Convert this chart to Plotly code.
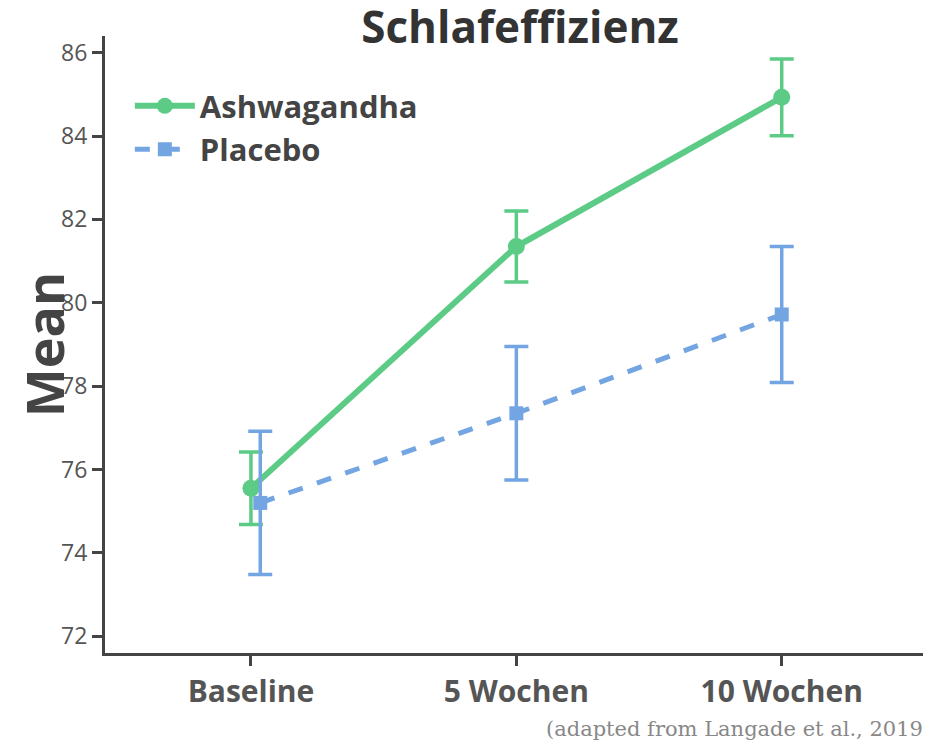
import plotly.graph_objects as go

categories = ["Baseline", "5 Wochen", "10 Wochen"]
x_ash = [0, 1, 2]
x_pla = [0.035, 1, 2]
ash_mean = [75.55, 81.35, 84.93]
ash_err = [0.87, 0.85, 0.92]
pla_mean = [75.2, 77.35, 79.72]
pla_err = [1.72, 1.6, 1.63]

green = "#5ccb85"
blue = "#74a5e3"
fig = go.Figure()
fig.add_trace(go.Scatter(x=x_ash, y=ash_mean, name="<b>Ashwagandha</b>", mode="lines+markers",
    line=dict(color=green, width=6), marker=dict(size=17, symbol="circle"),
    error_y=dict(type="data", array=ash_err, color=green, thickness=3.5, width=12)))
fig.add_trace(go.Scatter(x=x_pla, y=pla_mean, name="<b>Placebo</b>", mode="lines+markers",
    line=dict(color=blue, width=5, dash="dash"), marker=dict(size=14, symbol="square"),
    error_y=dict(type="data", array=pla_err, color=blue, thickness=3.5, width=12)))

ax = dict(showline=True, linecolor="#444", linewidth=3, ticks="outside", tickcolor="#444",
          tickwidth=3, ticklen=10, showgrid=False, zeroline=False, automargin=False)
fig.update_layout(
    width=931, height=744, plot_bgcolor="white", paper_bgcolor="white",
    margin=dict(l=97, r=6, t=28, b=99),
    font=dict(family="Open Sans", color="#444"),
    title=dict(text="<b>Schlafeffizienz</b>", x=0.55, xanchor="center", y=0.995, yanchor="top",
               font=dict(size=44, color="#333")),
    xaxis=dict(**ax, range=[-0.55, 2.57], tickvals=[0, 1, 2], ticktext=[f"<b>{c}</b>" for c in categories],
               tickfont=dict(size=30, color="#555")),
    yaxis=dict(**ax, range=[71.6, 86.4], tickvals=list(range(72, 87, 2)),
               tickfont=dict(size=23, color="#555"),
               title=dict(text="<b>Mean</b>", font=dict(size=52, color="#444"), standoff=8)),
    legend=dict(x=0.03, y=0.93, xanchor="left", yanchor="top", font=dict(size=31, color="#444"),
                bgcolor="rgba(0,0,0,0)", itemwidth=60, tracegroupgap=10),
    showlegend=True,
)
fig.add_annotation(text="(adapted from Langade et al., 2019)", xref="paper", yref="paper",
    x=1, y=-0.1, xanchor="right", yanchor="top", showarrow=False,
    font=dict(family="DejaVu Serif", size=21, color="#888"))
fig.write_html("out.html")
